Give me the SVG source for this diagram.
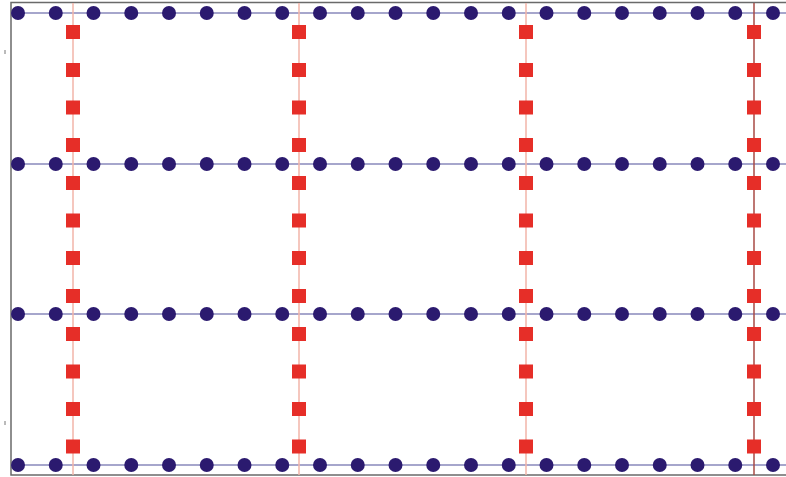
<svg xmlns="http://www.w3.org/2000/svg" width="786" height="477" viewBox="0 0 786 477">
<style>
.frame{stroke:#6a6a6a;stroke-width:1.5;fill:none}
.h{stroke:#a6a6cc;stroke-width:2}
.v{stroke:#f2b4a8;stroke-width:1.5}
.v4{stroke:#a84a44;stroke-width:1.5}
.tick{stroke:#777;stroke-width:1}
</style>
<defs>
<circle id="dot" r="7" fill="#2b1a6f"/>
<rect id="sq" x="-7" y="-7" width="14" height="14" fill="#e62e28"/>
</defs>
<rect width="786" height="477" fill="#ffffff"/>
<g id="frame">
<path class="frame" d="M786 2.5 H11 V475 H786"/>
<line class="tick" x1="5" y1="50" x2="5" y2="54"/>
<line class="tick" x1="5" y1="421" x2="5" y2="425"/>
</g>
<g id="connectors">
<line class="h" x1="11" y1="13" x2="786" y2="13"/>
<line class="h" x1="11" y1="164" x2="786" y2="164"/>
<line class="h" x1="11" y1="314" x2="786" y2="314"/>
<line class="h" x1="11" y1="465" x2="786" y2="465"/>
<line class="v" x1="73" y1="3" x2="73" y2="475"/>
<line class="v" x1="299" y1="3" x2="299" y2="475"/>
<line class="v" x1="526" y1="3" x2="526" y2="475"/>
<line class="v4" x1="754" y1="3" x2="754" y2="475"/>
</g>
<g id="dots">
<use href="#dot" x="18" y="13"/><use href="#dot" x="55.75" y="13"/><use href="#dot" x="93.5" y="13"/><use href="#dot" x="131.25" y="13"/><use href="#dot" x="169" y="13"/><use href="#dot" x="206.75" y="13"/><use href="#dot" x="244.5" y="13"/><use href="#dot" x="282.25" y="13"/><use href="#dot" x="320" y="13"/><use href="#dot" x="357.75" y="13"/><use href="#dot" x="395.5" y="13"/><use href="#dot" x="433.25" y="13"/><use href="#dot" x="471" y="13"/><use href="#dot" x="508.75" y="13"/><use href="#dot" x="546.5" y="13"/><use href="#dot" x="584.25" y="13"/><use href="#dot" x="622" y="13"/><use href="#dot" x="659.75" y="13"/><use href="#dot" x="697.5" y="13"/><use href="#dot" x="735.25" y="13"/><use href="#dot" x="773" y="13"/>
<use href="#dot" x="18" y="164"/><use href="#dot" x="55.75" y="164"/><use href="#dot" x="93.5" y="164"/><use href="#dot" x="131.25" y="164"/><use href="#dot" x="169" y="164"/><use href="#dot" x="206.75" y="164"/><use href="#dot" x="244.5" y="164"/><use href="#dot" x="282.25" y="164"/><use href="#dot" x="320" y="164"/><use href="#dot" x="357.75" y="164"/><use href="#dot" x="395.5" y="164"/><use href="#dot" x="433.25" y="164"/><use href="#dot" x="471" y="164"/><use href="#dot" x="508.75" y="164"/><use href="#dot" x="546.5" y="164"/><use href="#dot" x="584.25" y="164"/><use href="#dot" x="622" y="164"/><use href="#dot" x="659.75" y="164"/><use href="#dot" x="697.5" y="164"/><use href="#dot" x="735.25" y="164"/><use href="#dot" x="773" y="164"/>
<use href="#dot" x="18" y="314"/><use href="#dot" x="55.75" y="314"/><use href="#dot" x="93.5" y="314"/><use href="#dot" x="131.25" y="314"/><use href="#dot" x="169" y="314"/><use href="#dot" x="206.75" y="314"/><use href="#dot" x="244.5" y="314"/><use href="#dot" x="282.25" y="314"/><use href="#dot" x="320" y="314"/><use href="#dot" x="357.75" y="314"/><use href="#dot" x="395.5" y="314"/><use href="#dot" x="433.25" y="314"/><use href="#dot" x="471" y="314"/><use href="#dot" x="508.75" y="314"/><use href="#dot" x="546.5" y="314"/><use href="#dot" x="584.25" y="314"/><use href="#dot" x="622" y="314"/><use href="#dot" x="659.75" y="314"/><use href="#dot" x="697.5" y="314"/><use href="#dot" x="735.25" y="314"/><use href="#dot" x="773" y="314"/>
<use href="#dot" x="18" y="465"/><use href="#dot" x="55.75" y="465"/><use href="#dot" x="93.5" y="465"/><use href="#dot" x="131.25" y="465"/><use href="#dot" x="169" y="465"/><use href="#dot" x="206.75" y="465"/><use href="#dot" x="244.5" y="465"/><use href="#dot" x="282.25" y="465"/><use href="#dot" x="320" y="465"/><use href="#dot" x="357.75" y="465"/><use href="#dot" x="395.5" y="465"/><use href="#dot" x="433.25" y="465"/><use href="#dot" x="471" y="465"/><use href="#dot" x="508.75" y="465"/><use href="#dot" x="546.5" y="465"/><use href="#dot" x="584.25" y="465"/><use href="#dot" x="622" y="465"/><use href="#dot" x="659.75" y="465"/><use href="#dot" x="697.5" y="465"/><use href="#dot" x="735.25" y="465"/><use href="#dot" x="773" y="465"/>
</g>
<g id="squares">
<use href="#sq" x="73" y="32"/><use href="#sq" x="73" y="70"/><use href="#sq" x="73" y="107.5"/><use href="#sq" x="73" y="145"/><use href="#sq" x="73" y="183"/><use href="#sq" x="73" y="220.5"/><use href="#sq" x="73" y="258"/><use href="#sq" x="73" y="296"/><use href="#sq" x="73" y="334"/><use href="#sq" x="73" y="371.5"/><use href="#sq" x="73" y="409"/><use href="#sq" x="73" y="446.5"/>
<use href="#sq" x="299" y="32"/><use href="#sq" x="299" y="70"/><use href="#sq" x="299" y="107.5"/><use href="#sq" x="299" y="145"/><use href="#sq" x="299" y="183"/><use href="#sq" x="299" y="220.5"/><use href="#sq" x="299" y="258"/><use href="#sq" x="299" y="296"/><use href="#sq" x="299" y="334"/><use href="#sq" x="299" y="371.5"/><use href="#sq" x="299" y="409"/><use href="#sq" x="299" y="446.5"/>
<use href="#sq" x="526" y="32"/><use href="#sq" x="526" y="70"/><use href="#sq" x="526" y="107.5"/><use href="#sq" x="526" y="145"/><use href="#sq" x="526" y="183"/><use href="#sq" x="526" y="220.5"/><use href="#sq" x="526" y="258"/><use href="#sq" x="526" y="296"/><use href="#sq" x="526" y="334"/><use href="#sq" x="526" y="371.5"/><use href="#sq" x="526" y="409"/><use href="#sq" x="526" y="446.5"/>
<use href="#sq" x="754" y="32"/><use href="#sq" x="754" y="70"/><use href="#sq" x="754" y="107.5"/><use href="#sq" x="754" y="145"/><use href="#sq" x="754" y="183"/><use href="#sq" x="754" y="220.5"/><use href="#sq" x="754" y="258"/><use href="#sq" x="754" y="296"/><use href="#sq" x="754" y="334"/><use href="#sq" x="754" y="371.5"/><use href="#sq" x="754" y="409"/><use href="#sq" x="754" y="446.5"/>
</g>
</svg>
